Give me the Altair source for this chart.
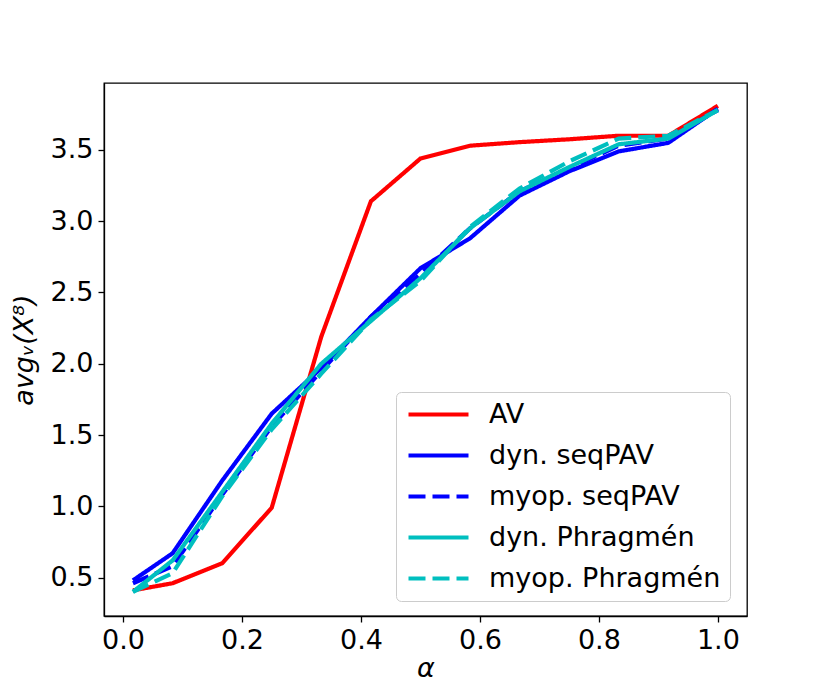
import altair as alt
import pandas as pd

alpha = [0.0167, 0.0833, 0.1667, 0.25, 0.3333, 0.4167, 0.5, 0.5833, 0.6667, 0.75, 0.8333, 0.9167, 1.0]
av = [0.41, 0.46, 0.60, 0.99, 2.19, 3.14, 3.44, 3.53, 3.555, 3.575, 3.60, 3.60, 3.81]
dyn_seqpav = [0.48, 0.67, 1.18, 1.65, 1.97, 2.33, 2.67, 2.88, 3.18, 3.35, 3.49, 3.55, 3.79]
myop_seqpav = [0.46, 0.58, 1.08, 1.56, 1.95, 2.33, 2.63, 2.95, 3.21, 3.37, 3.53, 3.58, 3.78]
dyn_phragmen = [0.40, 0.62, 1.10, 1.58, 2.00, 2.30, 2.60, 2.95, 3.21, 3.38, 3.54, 3.58, 3.78]
myop_phragmen = [0.40, 0.53, 1.07, 1.54, 1.93, 2.31, 2.58, 2.96, 3.23, 3.42, 3.58, 3.60, 3.78]

series_names = ["AV", "dyn. seqPAV", "myop. seqPAV", "dyn. Phragmén", "myop. Phragmén"]
series_values = [av, dyn_seqpav, myop_seqpav, dyn_phragmen, myop_phragmen]
x_ticks = [0.0, 0.2, 0.4, 0.6, 0.8, 1.0]
y_ticks = [0.5, 1.0, 1.5, 2.0, 2.5, 3.0, 3.5]

rows = []
for i, (name, vals) in enumerate(zip(series_names, series_values)):
    for a, v in zip(alpha, vals):
        rows.append({"alpha": a, "value": v, "series": name, "order": i})
df = pd.DataFrame(rows)

FONT = "DejaVu Sans"
FS = 27
color_scale = alt.Scale(domain=series_names,
                        range=["#ff0000", "#0000ff", "#0000ff", "#00bfbf", "#00bfbf"])
dash_scale = alt.Scale(domain=series_names,
                       range=[[1, 0], [1, 0], [17, 7], [1, 0], [17, 7]])

legend = alt.Legend(
    title=None, orient="none", legendX=292, legendY=309,
    symbolType="M-1,0H5", symbolSize=400, symbolStrokeWidth=4.2,
    symbolFillColor="transparent",
    labelFontSize=FS, labelFont=FONT, labelColor="black", labelOffset=57,
    fillColor="white", strokeColor="#cccccc", cornerRadius=5, padding=9,
    rowPadding=13, labelLimit=400,
)

chart = alt.Chart(df).mark_line(strokeWidth=4.2, strokeCap="butt", clip=True).encode(
    x=alt.X("alpha:Q",
            scale=alt.Scale(domain=[-0.032, 1.049], nice=False, zero=False),
            axis=alt.Axis(values=x_ticks, format=".1f", title="α", grid=False,
                          titleFontStyle="italic")),
    y=alt.Y("value:Q",
            scale=alt.Scale(domain=[0.23, 3.97], nice=False, zero=False),
            axis=alt.Axis(values=y_ticks, format=".1f", title="avgᵥ(X⁸)", grid=False,
                          titleFontStyle="italic")),
    color=alt.Color("series:N", scale=color_scale, legend=legend),
    strokeDash=alt.StrokeDash("series:N", scale=dash_scale, legend=legend),
    order=alt.Order("order:Q"),
).properties(
    width=643, height=533,
    autosize=alt.AutoSizeParams(type="none"),
    padding={"left": 96, "top": 75, "right": 60, "bottom": 68},
).configure_view(
    stroke="black", strokeWidth=1.3
).configure_axis(
    labelFont=FONT, labelFontSize=FS, labelColor="black",
    titleFont=FONT, titleFontSize=FS, titleColor="black", titleFontWeight="normal",
    domainColor="black", domainWidth=1.3, tickColor="black", tickWidth=1.3,
    tickSize=6, labelPadding=5, labelFlush=False,
).configure_axisX(
    titlePadding=2
).configure_axisY(
    titlePadding=12
)

chart.save("out.html", embed_options={"renderer": "svg", "actions": False})
